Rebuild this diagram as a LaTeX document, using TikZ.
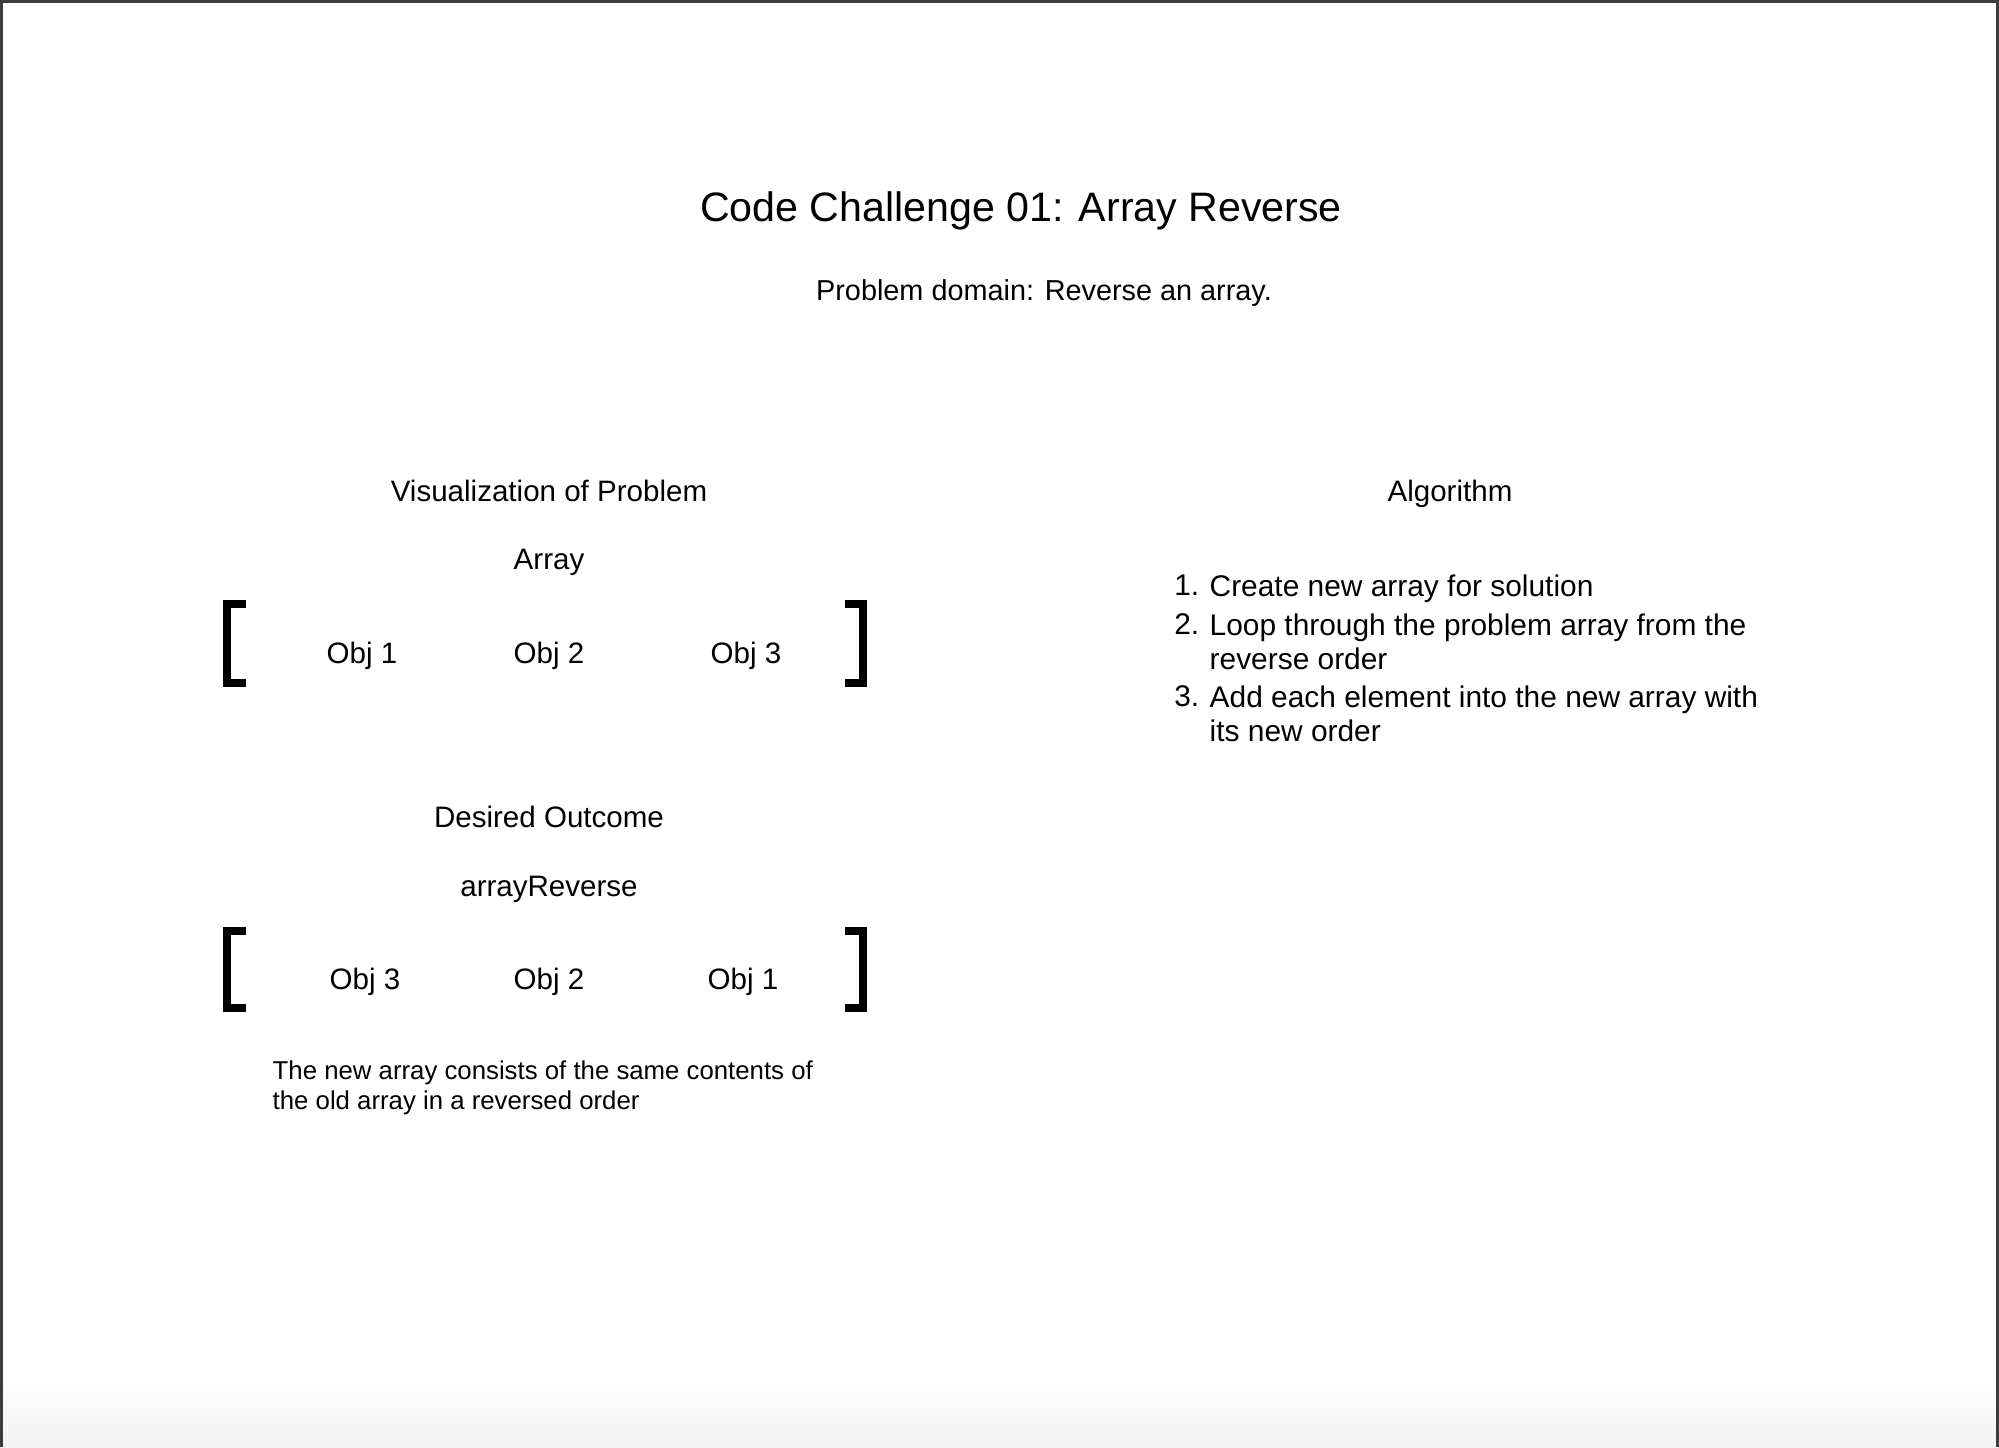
\documentclass[tikz,border=0pt]{standalone}
\usepackage{fontspec}
\setmainfont{Liberation Sans}
\usepackage{tikz}
\definecolor{frame}{HTML}{3C3C3C}

\tikzset{
  txt/.style={font=\fontsize{8.4}{10}\selectfont, inner sep=0pt},
  heading/.style={font=\fontsize{11.7}{14}\selectfont, inner sep=0pt},
  note/.style={font=\fontsize{7.33}{8.6}\selectfont, inner sep=0pt, align=left, anchor=north west},
  item/.style={font=\fontsize{8.5}{9.7}\selectfont, inner sep=0pt, align=left, anchor=north west},
  bracket/.style={line width=2.3pt, line cap=butt, line join=miter},
}

\begin{document}
\begin{tikzpicture}[x=0.01cm, y=-0.01cm]
            \useasboundingbox (0,0) rectangle (1999,1447);
            \shade[top color=white, bottom color=black!5] (0,1380) rectangle (1999,1447);
            \draw[frame, line width=1pt] (0,1.5) -- (1999,1.5);
            \draw[frame, line width=0.8pt] (1.2,0) -- (1.2,1447);
            \draw[frame, line width=1pt] (1997.5,0) -- (1997.5,1447);

            % header
            \node[heading] (title) at (1021,211) {Code Challenge 01: Array Reverse};
            \node[txt, font=\fontsize{8.2}{10}\selectfont] (domain) at (1044,293) {Problem domain: Reverse an array.};

            % visualization
            \node[txt] (vis) at (549,491) {Visualization of Problem};
            \node[txt] (arr) at (549,562) {Array};
            \node[txt] (a1) at (362,656) {Obj 1};
            \node[txt] (a2) at (549,656) {Obj 2};
            \node[txt] (a3) at (746,656) {Obj 3};
            \draw[bracket] (246,604) -- (227,604) -- (227,683) -- (246,683);
            \draw[bracket] (845,604) -- (863,604) -- (863,683) -- (845,683);

            \node[txt] (out) at (549,817) {Desired Outcome};
            \node[txt] (rev) at (549,889) {arrayReverse};
            \node[txt] (b1) at (365,982) {Obj 3};
            \node[txt] (b2) at (549,982) {Obj 2};
            \node[txt] (b3) at (743,982) {Obj 1};
            \draw[bracket] (246,931) -- (227,931) -- (227,1008) -- (246,1008);
            \draw[bracket] (845,931) -- (863,931) -- (863,1008) -- (845,1008);

            \node[note] (remark) at (272,1060) {The new array consists of the same contents of\\the old array in a reversed order};

            % algorithm
            \node[txt] (algo) at (1450,494) {Algorithm};
            \node[item, anchor=north east] (n1) at (1200,574) {1.};
            \node[item] (s1) at (1209,574) {Create new array for solution};
            \node[item, anchor=north east] (n2) at (1200,613) {2.};
            \node[item] (s2) at (1209,613) {Loop through the problem array from the\\reverse order};
            \node[item, anchor=north east] (n3) at (1200,685) {3.};
            \node[item] (s3) at (1209,685) {Add each element into the new array with\\its new order};
        \end{tikzpicture}
\end{document}
